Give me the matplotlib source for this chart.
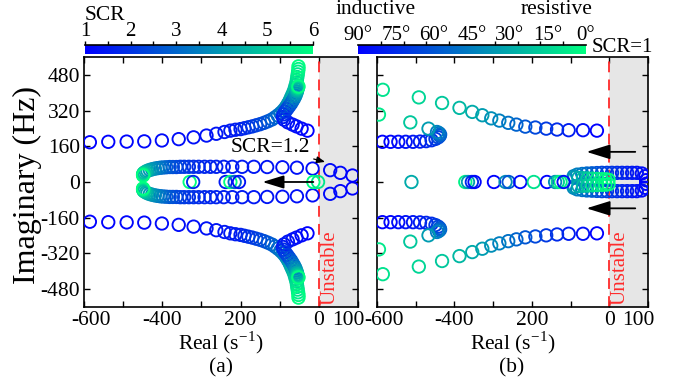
import numpy as np
import matplotlib.pyplot as plt
from matplotlib.colors import Normalize
from matplotlib.cm import ScalarMappable
from matplotlib.ticker import FixedLocator

plt.rcParams['font.family'] = ['Liberation Serif', 'DejaVu Serif']
plt.rcParams['mathtext.fontset'] = 'stix'

# ---------------- (a) eigenvalue trajectories, SCR 1 -> 6 ----------------
# outer branch (upper half, lower half is the conjugate)
a_outer_re = [-585, -538, -491, -446, -401, -358, -320, -287, -262, -241, -226, -213,
              -200, -190, -180, -170, -160, -150, -140, -130, -120, -112, -105, -98,
              -92, -87, -83, -79, -75, -72, -69, -66, -63, -61, -59, -57, -56, -55,
              -54, -53, -52, -52]
a_outer_im = [178, 180, 181, 182, 186, 192, 200, 208, 216, 224, 230, 234,
              237, 241, 245, 249, 254, 259, 265, 272, 280, 289, 298, 308,
              318, 328, 338, 350, 362, 374, 386, 398, 410, 422, 434, 446, 458, 470,
              482, 494, 506, 518]
a_outer_scr = [1.0, 1.05, 1.1, 1.15, 1.2, 1.25, 1.3, 1.35, 1.4, 1.45, 1.5, 1.55,
               1.6, 1.75, 1.9, 2.05, 2.2, 2.35, 2.5, 2.65, 2.8, 2.95, 3.1, 3.25,
               3.4, 3.55, 3.7, 3.85, 4.0, 4.15, 4.3, 4.45, 4.6, 4.75, 4.9, 5.05, 5.2, 5.35,
               5.5, 5.65, 5.8, 6.0]

# branch starting near the unstable boundary at ~230 Hz
a_hook_re = [-29, -44, -57, -67, -79, -89, -92, -90, -86, -81, -76, -71, -67, -63,
             -60, -58, -56, -55, -54, -53, -52]
a_hook_im = [230, 239, 249, 257, 267, 279, 291, 303, 315, 327, 339, 351, 363, 375,
             386, 396, 405, 413, 420, 425, 428]
a_hook_scr = [1.0, 1.1, 1.2, 1.3, 1.4, 1.5, 1.6, 1.8, 2.0, 2.2, 2.4, 2.7, 3.0, 3.3,
              3.6, 3.9, 4.2, 4.6, 5.0, 5.5, 6.0]

# inner (low frequency) branch
a_inner_re = [86, 55, 29, -16, -56, -93, -132, -166, -196, -221, -243, -262, -277,
              -292, -307, -320, -332, -344, -354, -364, -373, -381, -390, -398, -405,
              -412, -419, -426, -432, -438, -442, -446, -448, -449, -449, -449]
a_inner_im = [29, 41, 53, 60, 64, 66, 67, 68, 68, 68, 68, 68, 68,
              68, 68, 68, 68, 68, 68, 67, 67, 67, 66, 65, 64,
              62, 60, 57, 54, 50, 46, 42, 38, 35, 32, 29]
a_inner_scr = [1.0, 1.1, 1.2, 1.25, 1.3, 1.35, 1.4, 1.45, 1.5, 1.55, 1.6, 1.65, 1.7,
               1.75, 1.8, 1.9, 2.0, 2.1, 2.2, 2.35, 2.5, 2.65, 2.8, 3.0, 3.2,
               3.4, 3.6, 3.8, 4.0, 4.25, 4.5, 4.75, 5.0, 5.3, 5.6, 6.0]

# real poles
a_real_re = [-330, -321, -238, -226, -215, -204, -14, -2]
a_real_scr = [6.0, 1.8, 1.5, 6.0, 3.0, 1.3, 6.0, 5.5]

# ---------------- (b) SCR = 1, grid impedance angle 90 -> 0 deg ----------------
b_arc_re = [-32, -68, -105, -135, -163, -191, -217, -240, -261, -284, -305, -328,
            -354, -387, -432, -492, -585]
b_arc_im = [230, 232, 232, 235, 239, 244, 248, 257, 265, 275, 285, 299,
            314, 332, 354, 379, 413]
b_arc_ang = [90, 85, 80, 75, 70, 65, 60, 55, 50, 45, 40, 35, 30, 25, 20, 15, 10]

b_row_re = [-586, -565, -545, -526, -507, -489, -473, -459, -449, -442, -438, -437,
            -440, -445, -467, -514, -595]
b_row_im = [180, 180, 180, 180, 180, 181, 183, 187, 193, 200, 207, 213,
            219, 224, 239, 267, 302]
b_row_ang = [90, 88, 86, 84, 82, 80, 77, 74, 70, 65, 60, 55, 50, 45, 35, 20, 8]

b_loop_re = [95, 93, 84, 71, 59, 46, 33, 20, 7, -6, -19, -32, -45, -58, -70, -83,
             -92, -90, -80, -68, -56, -44, -32, -20, -10, -2]
b_loop_im = [8, 26, 38, 41, 41, 41, 41, 41, 41, 41, 41, 40, 39, 38, 36, 33,
             26, 20, 18, 17, 16, 15, 14, 13, 12, 10]
b_loop_ang = [90, 88, 86, 84, 82, 80, 78, 75, 72, 69, 66, 62, 58, 54, 50, 46,
              42, 36, 30, 24, 18, 12, 8, 5, 2, 0]

b_real_re = [-511, -372, -365, -355, -348, -298, -268, -260, -230, -195, -161,
             -140, -133, -126, -118]
b_real_ang = [30, 5, 35, 75, 88, 90, 40, 60, 88, 10, 90, 40, 15, 5, 85]

# tick labels (the two end labels are placed by hand, nudged inwards)
x_ticks = [-600, -500, -400, -300, -200, -100, 0, 100]
x_labels = ['', '', '-400', '', '200', '', '0', '']
x_end_labels = [(-600, '-600', 5), (100, '100', -7)]
y_ticks = [-480, -320, -160, 0, 160, 320, 480]
y_labels = ['-480', '-320', '-160', '0', '160', '320', '480']
scr_ticks = [1, 2, 3, 4, 5, 6]
ang_ticks = [90, 75, 60, 45, 30, 15, 0]

scr_norm = Normalize(1, 6)
ang_norm = Normalize(0, 90)
scr_cmap = plt.get_cmap('winter')
ang_cmap = plt.get_cmap('winter_r')

MS = 80
LW = 1.35


def draw(ax, re, im, c, cmap, norm, mirror=True):
    re = np.asarray(re, float)
    im = np.asarray(im, float)
    cols = cmap(norm(np.asarray(c, float)))
    ax.scatter(re, im, s=MS, facecolors='none', edgecolors=cols, linewidths=LW, zorder=3)
    if mirror:
        ax.scatter(re, -im, s=MS, facecolors='none', edgecolors=cols, linewidths=LW, zorder=3)


fig = plt.figure(figsize=(6.73, 3.85), dpi=100)
ax1 = fig.add_axes([0.1248, 0.2026, 0.4071, 0.6494])
ax2 = fig.add_axes([0.5602, 0.2026, 0.4027, 0.6494])

for ax in (ax1, ax2):
    ax.axvspan(0, 100, color='#e6e6e6', lw=0, zorder=0)
    ax.axvline(0, color='#ff2a2a', ls=(0, (6, 4)), lw=1.3, zorder=2)
    ax.set_xlim(-600, 100)
    ax.set_ylim(-560, 560)
    ax.set_xticks(x_ticks)
    ax.set_xticklabels(x_labels)
    ax.set_yticks(y_ticks)
    ax.tick_params(direction='in', top=True, right=True, length=4, width=1,
                   labelsize=15.5, pad=3)
    for sp in ax.spines.values():
        sp.set_linewidth(1.2)
    for xv, txt, dx in x_end_labels:
        ax.annotate(txt, xy=(xv, 0), xycoords=ax.get_xaxis_transform(),
                    xytext=(dx, -3), textcoords='offset points',
                    ha='center', va='top', fontsize=15.5, annotation_clip=False)
    ax.set_xlabel('Real (s$^{\\mathregular{-1}}$)', fontsize=15.5, labelpad=0)

ax1.set_yticklabels(y_labels)
ax2.set_yticklabels([])
ax1.text(29, -553, 'Unstable', rotation=90, color='#ff2a2a', fontsize=15,
         ha='center', va='bottom')
ax2.text(27, -553, 'Unstable', rotation=90, color='#ff2a2a', fontsize=15,
         ha='center', va='bottom')

# (a)
draw(ax1, a_outer_re, a_outer_im, a_outer_scr, scr_cmap, scr_norm)
draw(ax1, a_hook_re, a_hook_im, a_hook_scr, scr_cmap, scr_norm)
draw(ax1, a_inner_re, a_inner_im, a_inner_scr, scr_cmap, scr_norm)
draw(ax1, a_real_re, np.zeros(len(a_real_re)), a_real_scr, scr_cmap, scr_norm, mirror=False)
ax1.annotate('', xy=(-144, 0), xytext=(-14, 0),
             arrowprops=dict(arrowstyle='-|>,head_length=1.3,head_width=0.4',
                             color='k', lw=1.3, shrinkA=0, shrinkB=0, mutation_scale=10),
             zorder=4)
ax1.annotate('SCR=1.2', xy=(16, 90), xytext=(-125, 153), fontsize=15.5,
             ha='center', va='center',
             arrowprops=dict(arrowstyle='-|>,head_length=0.5,head_width=0.2',
                             color='k', lw=0.9, shrinkA=1, shrinkB=0, mutation_scale=10))

# (b)
draw(ax2, b_arc_re, b_arc_im, b_arc_ang, ang_cmap, ang_norm)
draw(ax2, b_row_re, b_row_im, b_row_ang, ang_cmap, ang_norm)
draw(ax2, b_loop_re, b_loop_im, b_loop_ang, ang_cmap, ang_norm)
draw(ax2, b_real_re, np.zeros(len(b_real_re)), b_real_ang, ang_cmap, ang_norm, mirror=False)
for yy in (135, -118):
    ax2.annotate('', xy=(-59, yy), xytext=(67, yy),
                 arrowprops=dict(arrowstyle='-|>,head_length=1.45,head_width=0.45',
                                 color='k', lw=1.3, shrinkA=0, shrinkB=0, mutation_scale=10),
                 zorder=4)

# colour bars
cax1 = fig.add_axes([85 / 673, 1 - 54 / 385, 228 / 673, 9 / 385])
cb1 = fig.colorbar(ScalarMappable(norm=scr_norm, cmap=scr_cmap), cax=cax1,
                   orientation='horizontal')
cb1.set_ticks(scr_ticks)
cax1.xaxis.set_minor_locator(FixedLocator([1.5, 2.5, 3.5, 4.5, 5.5]))

cax2 = fig.add_axes([358 / 673, 1 - 54 / 385, 228 / 673, 9 / 385])
cb2 = fig.colorbar(ScalarMappable(norm=ang_norm, cmap=ang_cmap), cax=cax2,
                   orientation='horizontal')
cb2.ax.invert_xaxis()
cb2.set_ticks(ang_ticks)
cb2.set_ticklabels([f'{a}°' for a in ang_ticks])
cax2.xaxis.set_minor_locator(FixedLocator(list(range(0, 91, 9))))

for cb in (cb1, cb2):
    cb.outline.set_visible(False)
    cb.ax.xaxis.set_ticks_position('top')
    cb.ax.tick_params(which='major', direction='out', length=3, width=1,
                      labelsize=15, pad=0)
    cb.ax.tick_params(which='minor', direction='out', length=3, width=1)
    cb.ax.plot([0, 1], [1, 1], transform=cb.ax.transAxes, color='k', lw=1.2,
               clip_on=False)
cb2.ax.tick_params(which='major', length=0)

fig.text(85 / 673, 1 - 15 / 385, 'SCR', fontsize=15.5, ha='left', va='center')
fig.text(335 / 673, 1 - 9 / 385, 'inductive', fontsize=15.5, ha='left', va='center')
fig.text(557 / 673, 1 - 9 / 385, 'resistive', fontsize=15.5, ha='center', va='center')
fig.text(592 / 673, 1 - 47 / 385, 'SCR=1', fontsize=15, ha='left', va='center')

fig.text(27 / 673, 1 - 185 / 385, 'Imaginary (Hz)', fontsize=23, rotation=90,
         ha='center', va='center')
fig.text(221 / 673, 1 - 368 / 385, '(a)', fontsize=15.5, ha='center', va='center')
fig.text(512 / 673, 1 - 368 / 385, '(b)', fontsize=15.5, ha='center', va='center')

fig.savefig('out.png', dpi=100)
